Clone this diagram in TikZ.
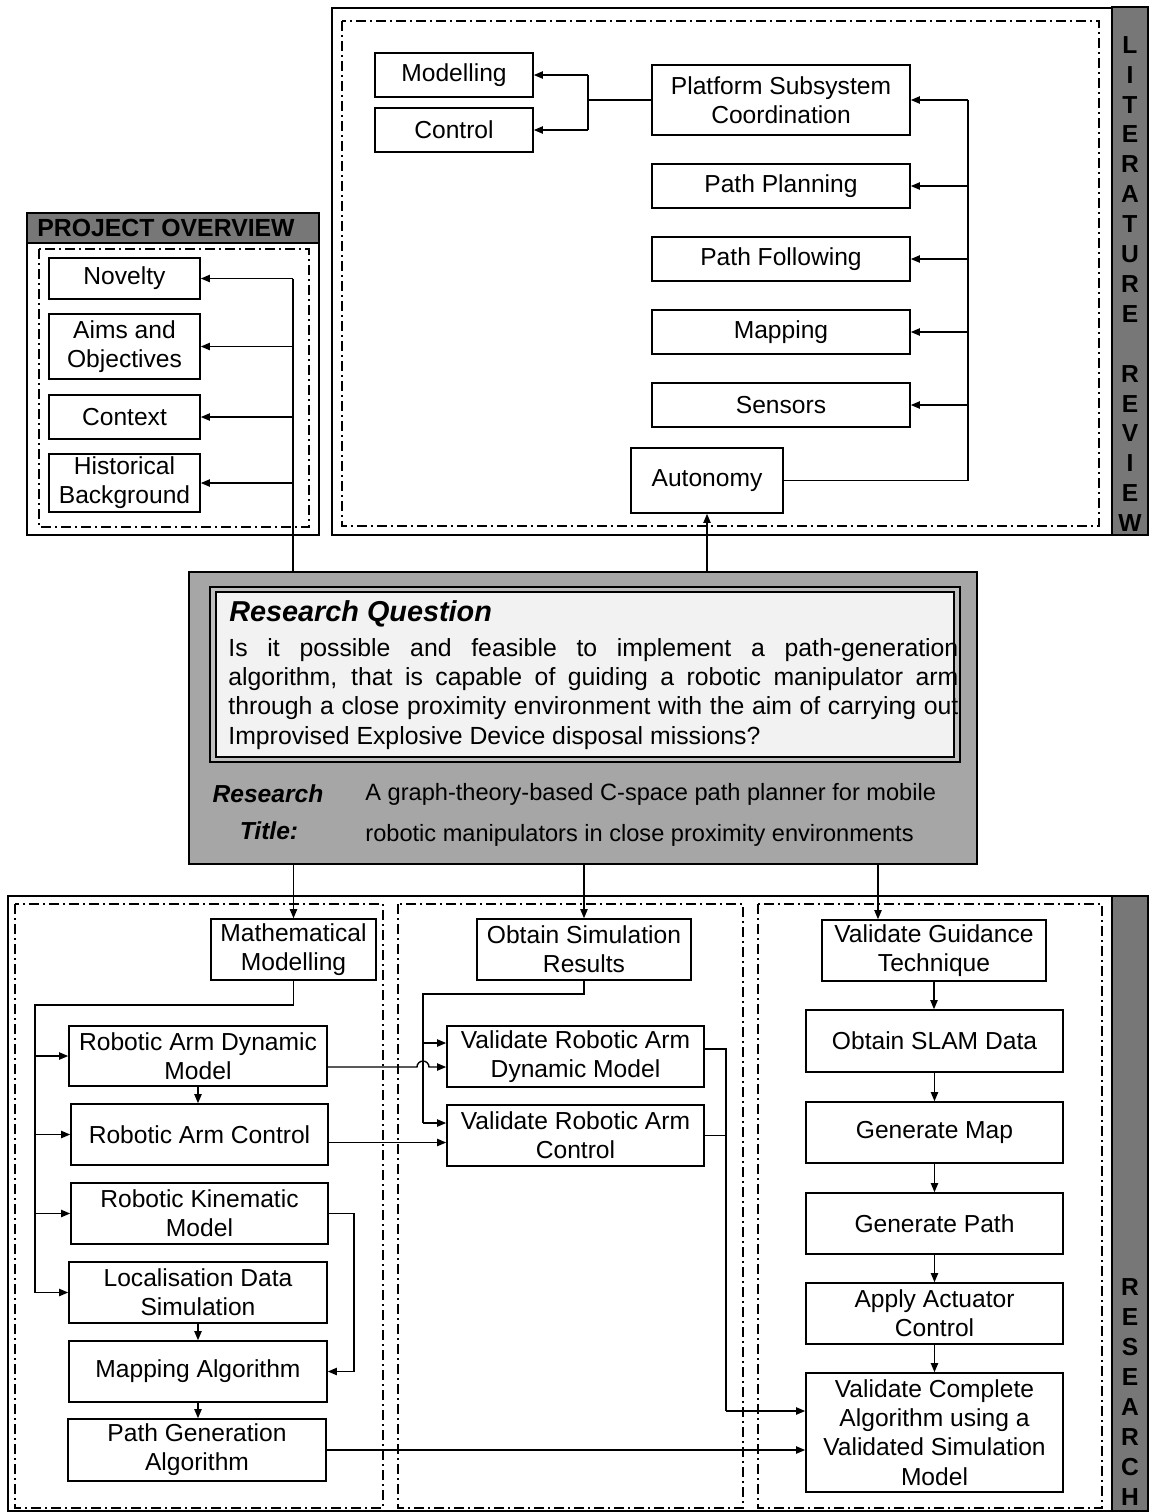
\documentclass[tikz,border=0pt]{standalone}
\usepackage{fontspec}
\setmainfont{Liberation Sans}
\usetikzlibrary{arrows.meta,calc}
\definecolor{stripgray}{HTML}{777777}
\definecolor{rqgray}{HTML}{A6A6A6}
\definecolor{bandgray}{HTML}{BFBFBF}
\definecolor{rqlight}{HTML}{F2F2F2}

\begin{document}
\begin{tikzpicture}[x=0.5pt,y=-0.5pt,
  box/.style={draw, line width=0.8pt, fill=white, inner sep=0pt, align=center,
    font=\fontsize{12.3}{14.6}\selectfont},
  wh/.style 2 args={minimum width=#1*0.5pt, minimum height=#2*0.5pt},
  link/.style={line width=0.7pt},
  arr/.style={link, -{Triangle[length=4.5pt,width=3.6pt]}},
  dd/.style={line width=0.6pt, dash pattern=on 5pt off 2pt on 1pt off 2pt},
  frame/.style={draw, line width=0.9pt},
  strip/.style={draw, line width=0.9pt, fill=stripgray},
  letters/.style={align=center, inner sep=0pt, font=\fontsize{12.3}{14.95}\selectfont\bfseries}
]
\useasboundingbox (0,0) rectangle (1149,1512);

% ---------- Literature review panel ----------
\draw[frame] (332,8) rectangle (1112,535);
\draw[strip] (1112,7) rectangle (1148,535);
\draw[dd] (342,21) rectangle (1099,526);
\node[letters] (litlbl) at (1130,284) {L\\I\\T\\E\\R\\A\\T\\U\\R\\E\\\mbox{}\\R\\E\\V\\I\\E\\W};

\node[box, wh={158}{44}] (mod) at (454,75) {Modelling};
\node[box, wh={158}{44}] (ctl) at (454,130) {Control};
\node[box, wh={258}{70}] (psc) at (781,100) {Platform Subsystem\\Coordination};
\node[box, wh={258}{44}] (pp)  at (781,186) {Path Planning};
\node[box, wh={258}{44}] (pf)  at (781,259) {Path Following};
\node[box, wh={258}{44}] (map) at (781,332) {Mapping};
\node[box, wh={258}{44}] (sen) at (781,405) {Sensors};
\node[box, wh={152}{65}] (aut) at (707,480.5) {Autonomy};

\coordinate (litbus) at (968,0);
\draw[link] (aut.east) -- (aut.east -| litbus) -- (litbus |- psc.east);
\foreach \n in {psc,pp,pf,map,sen} \draw[arr] (litbus |- \n.east) -- (\n.east);

\coordinate (pbus) at (588,0);
\draw[link] (psc.west) -- (psc.west -| pbus);
\draw[link] (pbus |- mod.east) -- (pbus |- ctl.east);
\draw[arr] (pbus |- mod.east) -- (mod.east);
\draw[arr] (pbus |- ctl.east) -- (ctl.east);

% ---------- Project overview panel ----------
\draw[frame] (27,213) rectangle (319,535);
\draw[frame, fill=stripgray] (27,213) rectangle (319,243);
\node[anchor=west, inner sep=0pt, font=\fontsize{12.4}{14}\selectfont\bfseries] (polbl) at (37,228) {PROJECT OVERVIEW};
\draw[dd] (39,249) rectangle (309,527);

\node[box, wh={151}{41}] (nov)  at (124.5,278.5) {Novelty};
\node[box, wh={151}{65}] (aims) at (124.5,346.5) {Aims and\\Objectives};
\node[box, wh={151}{44}] (cont) at (124.5,417) {Context};
\node[box, wh={151}{58}] (hist) at (124.5,483) {Historical\\Background};

% ---------- Research question block ----------
\node[draw, line width=0.9pt, fill=rqgray, inner sep=0pt, wh={788}{292}] (rq) at (583,718) {};
\node[draw, line width=0.8pt, fill=bandgray, inner sep=0pt, wh={750}{175}] (rqband) at (585,674.5) {};
\node[draw, line width=0.8pt, fill=rqlight, inner sep=0pt, wh={738}{165}] (rqin) at (585,674.5) {};
\node[anchor=west, inner sep=0pt, font=\fontsize{14.4}{17}\selectfont\bfseries\itshape] (rqhead) at (229,614) {Research Question};
\node[anchor=north west, inner sep=0pt, text width=365pt, align=justify,
  font=\fontsize{12.4}{14.65}\selectfont] (rqtext) at (228,638)
  {Is it possible and feasible to implement a path-generation\linebreak
   algorithm, that is capable of guiding a robotic manipulator arm\linebreak
   through a close proximity environment with the aim of carrying out\linebreak
   Improvised Explosive Device disposal missions?};
\node[inner sep=0pt, font=\fontsize{12.3}{14}\selectfont\bfseries\itshape] (rtl1) at (268,794) {Research};
\node[inner sep=0pt, font=\fontsize{12.3}{14}\selectfont\bfseries\itshape] (rtl2) at (269,831) {Title:};
\node[anchor=west, inner sep=0pt, font=\fontsize{11.8}{14}\selectfont] (rtt1) at (365,794) {A graph-theory-based C-space path planner for mobile};
\node[anchor=west, inner sep=0pt, font=\fontsize{11.8}{14}\selectfont] (rtt2) at (365,835) {robotic manipulators in close proximity environments};

\coordinate (obus) at (293,0);
\draw[link] (obus |- rq.north) -- (obus |- nov.east);
\foreach \n in {nov,aims,cont,hist} \draw[arr] (obus |- \n.east) -- (\n.east);
\draw[arr] (aut.south |- rq.north) -- (aut.south);

% ---------- Research panel ----------
\draw[frame] (8,896) rectangle (1112,1511);
\draw[strip] (1112,896) rectangle (1148,1511);
\draw[dd] (15,904) rectangle (383,1508);
\draw[dd] (398,904) rectangle (743,1508);
\draw[dd] (758,904) rectangle (1102,1508);
\node[letters] (reslbl) at (1130,1392) {R\\E\\S\\E\\A\\R\\C\\H};

% modelling column
\node[box, wh={165}{61}] (mm)  at (293.5,949.5) {Mathematical\\Modelling};
\node[box, wh={258}{60}] (rdm) at (198,1056) {Robotic Arm Dynamic\\Model};
\node[box, wh={257}{61}] (rac) at (199.5,1134.5) {Robotic Arm Control};
\node[box, wh={257}{61}] (rkm) at (199.5,1213.5) {Robotic Kinematic\\Model};
\node[box, wh={258}{61}] (lds) at (198,1292.5) {Localisation Data\\Simulation};
\node[box, wh={258}{61}] (mal) at (198,1371.5) {Mapping Algorithm};
\node[box, wh={258}{62}] (pga) at (197,1450) {Path Generation\\Algorithm};

% simulation column
\node[box, wh={214}{61}] (osr) at (584,949.5) {Obtain Simulation\\Results};
\node[box, wh={257}{61}] (vdm) at (575.5,1056.5) {Validate Robotic Arm\\Dynamic Model};
\node[box, wh={257}{61}] (vac) at (575.5,1135.5) {Validate Robotic Arm\\Control};

% guidance column
\node[box, wh={224}{61}]  (vgt)  at (934,950.5) {Validate Guidance\\Technique};
\node[box, wh={257}{62}]  (slam) at (934.5,1041) {Obtain SLAM Data};
\node[box, wh={257}{61}]  (gm)   at (934.5,1132.5) {Generate Map};
\node[box, wh={257}{61}]  (gp)   at (934.5,1223.5) {Generate Path};
\node[box, wh={257}{61}]  (aac)  at (934.5,1313.5) {Apply Actuator\\Control};
\node[box, wh={257}{119}] (vca)  at (934.5,1432.5) {Validate Complete\\Algorithm using a\\Validated Simulation\\Model};

% feeds from the research question
\draw[arr] (mm.north |- rq.south) -- (mm.north);
\draw[arr] (osr.north |- rq.south) -- (osr.north);
\draw[arr] ([xshift=-28pt]vgt.north |- rq.south) -- ([xshift=-28pt]vgt.north);

% modelling column links
\coordinate (mbus) at (35,1005);
\draw[link] (mm.south) -- (mm.south |- mbus) -- (mbus) -- (mbus |- lds.west);
\foreach \n in {rdm,rac,rkm,lds} \draw[arr] (mbus |- \n.west) -- (\n.west);
\draw[arr] (rdm.south) -- (rdm.south |- rac.north);
\draw[arr] (lds.south) -- (lds.south |- mal.north);
\draw[arr] (mal.south) -- (mal.south |- pga.north);
\coordinate (kbus) at (354,0);
\draw[arr] (rkm.east) -- (rkm.east -| kbus) -- (kbus |- mal.east) -- (mal.east);
\draw[arr] (pga.east) -- (pga.east -| vca.west);

% simulation column links
\coordinate (sbus) at (423,994);
\coordinate (vdmin) at ([yshift=6.75pt]vdm.west);
\coordinate (vacin) at ([yshift=6.25pt]vac.west);
\draw[link] (osr.south) -- (osr.south |- sbus) -- (sbus) -- (sbus |- vacin);
\draw[arr] (sbus |- vdmin) -- (vdmin);
\draw[arr] (sbus |- vacin) -- (vacin);

\coordinate (j0) at ([yshift=-5.5pt]rdm.east);
\draw[arr] (j0) -- ($(sbus |- j0)+(-6,0)$) arc[start angle=180, end angle=360, radius=6] -- (vdm.west |- j0);
\coordinate (r0) at ([yshift=-4pt]rac.east);
\draw[arr] (r0) -- (vac.west |- r0);

\coordinate (vbus) at (726,0);
\coordinate (v0) at ([yshift=3.75pt]vdm.east);
\coordinate (vcain) at ([yshift=10.75pt]vca.west);
\draw[link] (v0) -- (vbus |- v0) -- (vbus |- vcain);
\draw[link] (vac.east) -- (vac.east -| vbus);
\draw[arr] (vbus |- vcain) -- (vcain);

% guidance column links
\draw[arr] (vgt.south) -- (vgt.south |- slam.north);
\draw[arr] (slam.south) -- (slam.south |- gm.north);
\draw[arr] (gm.south) -- (gm.south |- gp.north);
\draw[arr] (gp.south) -- (gp.south |- aac.north);
\draw[arr] (aac.south) -- (aac.south |- vca.north);
\end{tikzpicture}
\end{document}
